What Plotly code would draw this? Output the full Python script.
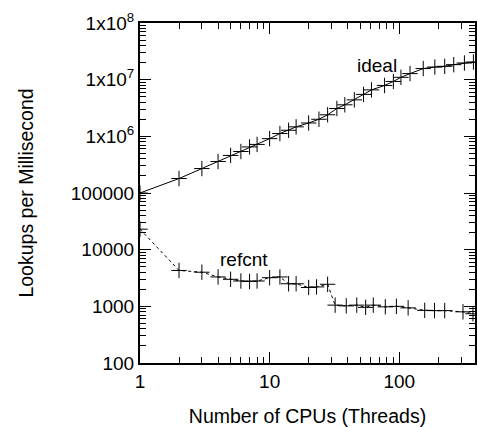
import plotly.graph_objects as go

# Thread counts and measured lookup rates
ideal_cpus = [1, 2, 3, 4, 5, 6, 7, 8, 10, 12, 14, 16, 20, 24, 28, 33, 38, 45, 53, 61,
              77, 90, 103, 121, 153, 188, 224, 263, 318, 373]
ideal_lookups = [1.0e5, 1.8e5, 2.7e5, 3.6e5, 4.6e5, 5.4e5, 6.5e5, 7.2e5, 9.1e5, 1.12e6,
                 1.28e6, 1.47e6, 1.72e6, 2.0e6, 2.4e6, 3.1e6, 3.6e6, 4.4e6, 5.5e6, 6.6e6,
                 7.9e6, 9.3e6, 1.1e7, 1.28e7, 1.57e7, 1.67e7, 1.72e7, 1.84e7, 1.97e7, 2.05e7]

refcnt_cpus = [1, 2, 3, 4, 5, 6, 7, 8, 10, 12, 14, 16, 20, 23, 28,
               32, 39, 47, 55, 63, 78, 95, 117, 157, 187, 224, 310, 370]
refcnt_lookups = [2.3e4, 4.3e3, 4.0e3, 3.3e3, 3.0e3, 2.8e3, 2.75e3, 2.8e3, 3.2e3, 3.3e3,
                  2.5e3, 2.5e3, 2.15e3, 2.2e3, 2.45e3,
                  1.05e3, 1.02e3, 1.05e3, 960, 1.05e3, 980, 1.0e3, 940, 850, 840, 840, 800, 740]

x_major = [1, 10, 100]
x_minor = [2, 3, 4, 5, 6, 7, 8, 9, 20, 30, 40, 50, 60, 70, 80, 90, 200, 300, 400]
y_major = [1e2, 1e3, 1e4, 1e5, 1e6, 1e7, 1e8]
y_labels = ["100", "1000", "10000", "100000",
            "1x10<sup>6</sup>", "1x10<sup>7</sup>", "1x10<sup>8</sup>"]
y_minor = [m * 10 ** e for e in range(2, 8) for m in range(2, 10)]

FONT = "Liberation Sans, Arial, Helvetica, sans-serif"
marker = dict(symbol="cross-thin", size=11, color="black",
              line=dict(color="black", width=1))

fig = go.Figure()
fig.add_trace(go.Scatter(x=ideal_cpus, y=ideal_lookups, mode="lines+markers",
                         line=dict(color="black", width=1), marker=marker,
                         showlegend=False))
fig.add_trace(go.Scatter(x=refcnt_cpus, y=refcnt_lookups, mode="lines+markers",
                         line=dict(color="black", width=1, dash="dot"), marker=marker,
                         showlegend=False))

# Series labels (positions in log10 axis units)
fig.add_annotation(x=1.825, y=7.254, xref="x", yref="y", text="ideal",
                   showarrow=False, font=dict(size=19, color="black", family=FONT))
fig.add_annotation(x=0.805, y=3.83, xref="x", yref="y", text="refcnt",
                   showarrow=False, font=dict(size=19, color="black", family=FONT))

axis_common = dict(showgrid=False, zeroline=False, showline=True, linecolor="black",
                   linewidth=2, mirror="allticks", ticks="inside", tickcolor="black",
                   tickwidth=1, ticklen=11,
                   tickfont=dict(size=19, color="black", family=FONT))

fig.update_xaxes(type="log", range=[0, 2.584], tickvals=x_major,
                 ticktext=["1", "10", "100"],
                 minor=dict(tickvals=x_minor, ticks="inside", ticklen=6,
                            tickcolor="black", tickwidth=1, showgrid=False),
                 title=dict(text="Number of CPUs (Threads)", standoff=19,
                            font=dict(size=19.5, color="black", family=FONT)),
                 **axis_common)
fig.update_yaxes(type="log", range=[2, 8], tickvals=y_major, ticktext=y_labels,
                 minor=dict(tickvals=y_minor, ticks="inside", ticklen=6,
                            tickcolor="black", tickwidth=1, showgrid=False),
                 title=dict(text="Lookups per Millisecond", standoff=32,
                            font=dict(size=19.5, color="black", family=FONT)),
                 **axis_common)

fig.update_layout(width=477, height=427, margin=dict(l=140, r=0, t=23, b=64),
                  plot_bgcolor="white", paper_bgcolor="white",
                  font=dict(family=FONT, color="black"))

fig.write_html("out.html")
